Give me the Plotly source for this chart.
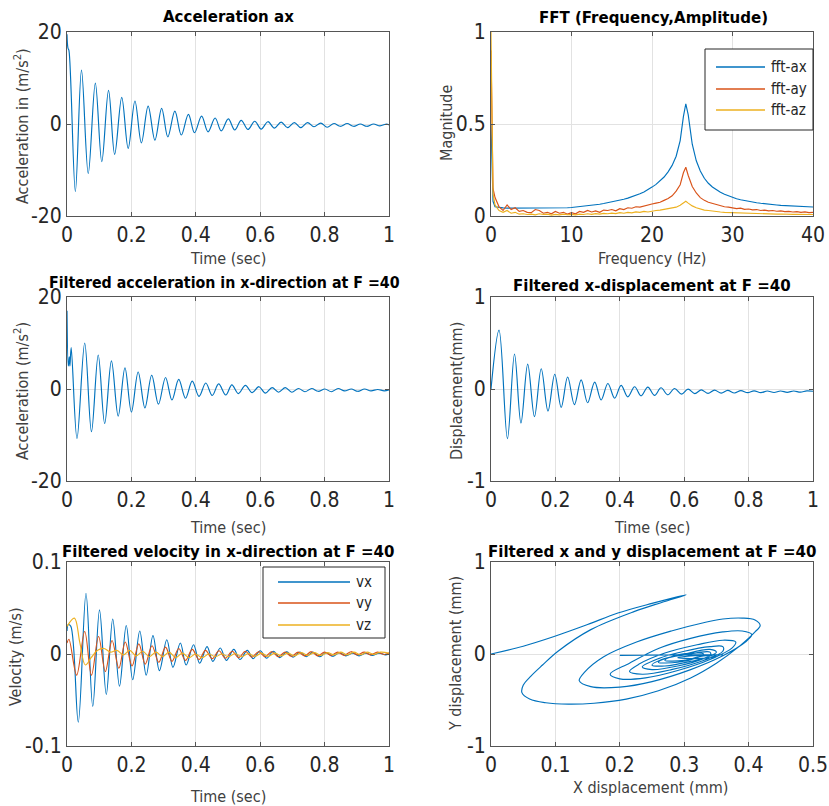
import plotly.graph_objects as go

# ---------------- data ----------------
# Panel 1: Acceleration ax (extrema)
ax_t = [0, 0.003, 0.006, 0.026, 0.045, 0.066, 0.088, 0.108, 0.129, 0.148, 0.170, 0.190, 0.211,
        0.231, 0.252, 0.273, 0.294, 0.313, 0.335, 0.355, 0.377, 0.396, 0.418, 0.438, 0.460, 0.479,
        0.501, 0.521, 0.541, 0.562, 0.583, 0.603, 0.624, 0.644, 0.665, 0.685, 0.706, 0.726, 0.747,
        0.767, 0.788, 0.808, 0.829, 0.849, 0.870, 0.890, 0.911, 0.931, 0.952, 0.972, 0.993, 1.0]
ax_v = [19.5, 16.5, 16.0, -14.7, 11.7, -10.8, 8.9, -8.2, 7.3, -6.6, 5.8, -5.3, 5.0,
        -4.1, 3.9, -3.5, 3.4, -2.8, 2.8, -2.4, 2.1, -1.9, 1.7, -1.7, 1.3, -1.5,
        1.1, -1.3, 0.8, -1.2, 0.6, -1.1, 0.5, -0.9, 0.4, -0.8, 0.3, -0.8, 0.3,
        -0.6, 0.2, -0.7, 0.1, -0.5, 0.1, -0.5, 0.0, -0.5, 0.0, -0.4, 0.0, -0.2]

# Panel 2: FFT
fft_f = [0, 0.25, 0.5, 1, 1.5, 2, 2.5, 3, 3.5, 4, 4.5, 5, 5.5, 6, 6.5, 7, 7.5, 8, 8.5, 9, 9.5, 10,
         10.5, 11, 11.5, 12, 12.5, 13, 13.5, 14, 14.5, 15, 15.5, 16, 16.5, 17, 17.5, 18, 18.5, 19,
         19.5, 20, 20.5, 21, 21.5, 22, 22.5, 23, 23.5, 23.9, 24.2, 24.5, 25, 25.5, 26, 26.5, 27,
         27.5, 28, 28.5, 29, 29.5, 30, 30.5, 31, 31.5, 32, 32.5, 33, 33.5, 34, 34.5, 35, 35.5, 36,
         36.5, 37, 37.5, 38, 38.5, 39, 39.5, 40]
fft_ax = [0.5, 0.08,
          0.05, 0.045, 0.044, 0.043, 0.043, 0.042, 0.042, 0.041, 0.041, 0.041,
          0.041, 0.041, 0.041, 0.041, 0.042, 0.042, 0.043, 0.044, 0.045, 0.046,
          0.048, 0.05, 0.052, 0.055, 0.058, 0.061, 0.064, 0.068, 0.072, 0.076,
          0.08, 0.085, 0.091, 0.097, 0.104, 0.112, 0.121, 0.131, 0.143, 0.157,
          0.172, 0.19, 0.212, 0.24, 0.275, 0.325, 0.41,
          0.54, 0.61,
          0.55, 0.39, 0.3, 0.245, 0.205, 0.178, 0.158, 0.142, 0.129, 0.118, 0.109, 0.101,
          0.094, 0.088, 0.083, 0.079, 0.075, 0.072, 0.069, 0.066, 0.064, 0.062,
          0.06, 0.058, 0.057, 0.055, 0.054, 0.053, 0.052, 0.051, 0.05, 0.049]
fft_ay = [0.9, 0.15,
          0.1, 0.05, 0.03, 0.06, 0.035, 0.045, 0.025, 0.03, 0.02, 0.018,
          0.035, 0.03, 0.015, 0.02, 0.012, 0.025, 0.015, 0.02, 0.01, 0.018,
          0.012, 0.025, 0.02, 0.03, 0.022, 0.028, 0.02, 0.032, 0.03, 0.035,
          0.028, 0.04, 0.035, 0.045, 0.042, 0.05, 0.048, 0.055, 0.058, 0.065,
          0.07, 0.075, 0.085, 0.095, 0.11, 0.135, 0.17,
          0.235, 0.265,
          0.22, 0.16, 0.125, 0.1, 0.085, 0.075, 0.068, 0.06, 0.056, 0.05, 0.048, 0.045,
          0.04, 0.043, 0.036, 0.038, 0.033, 0.035, 0.03, 0.032, 0.028, 0.03,
          0.026, 0.028, 0.024, 0.025, 0.022, 0.024, 0.02, 0.022, 0.018, 0.02]
fft_az = [1.0, 0.12,
          0.06, 0.03, 0.02, 0.03, 0.015, 0.02, 0.01, 0.012, 0.008, 0.01,
          0.006, 0.012, 0.008, 0.01, 0.005, 0.009, 0.006, 0.01, 0.007, 0.009,
          0.006, 0.01, 0.008, 0.012, 0.009, 0.013, 0.01, 0.014, 0.012, 0.016,
          0.013, 0.018, 0.015, 0.02, 0.017, 0.022, 0.02, 0.025, 0.022, 0.028,
          0.03, 0.032, 0.035, 0.038, 0.042, 0.048, 0.058,
          0.072, 0.08,
          0.07, 0.055, 0.045, 0.038, 0.032, 0.03, 0.026, 0.024, 0.022, 0.02, 0.019, 0.018,
          0.016, 0.017, 0.015, 0.014, 0.013, 0.014, 0.012, 0.012, 0.011, 0.011,
          0.01, 0.011, 0.009, 0.01, 0.009, 0.009, 0.008, 0.009, 0.008, 0.008]

# Panel 3: filtered acceleration (extrema)
fa_t = [0, 0.004, 0.007, 0.009, 0.013, 0.031, 0.055, 0.076, 0.097, 0.117, 0.138, 0.159, 0.180,
        0.200, 0.221, 0.242, 0.263, 0.284, 0.306, 0.326, 0.347, 0.368, 0.389, 0.410, 0.431, 0.451,
        0.471, 0.493, 0.512, 0.532, 0.554, 0.575, 0.596, 0.616, 0.637, 0.657, 0.678, 0.698, 0.719,
        0.739, 0.760, 0.780, 0.801, 0.821, 0.842, 0.862, 0.883, 0.903, 0.924, 0.944, 0.965, 0.985, 1.0]
fa_v = [17.0, 5.0, 7.0, 5.0, 9.0, -10.8, 10.0, -9.3, 7.4, -7.5, 6.1, -5.9, 4.6,
        -5.0, 3.7, -4.1, 3.0, -3.3, 2.5, -2.4, 2.1, -2.0, 1.7, -1.6, 1.3, -1.4,
        1.1, -1.3, 0.9, -1.0, 0.8, -0.8, 0.5, -0.9, 0.3, -0.7, 0.3, -0.7, 0.1,
        -0.6, 0.1, -0.5, 0.0, -0.6, 0.1, -0.4, 0.0, -0.5, 0.0, -0.4, -0.1, -0.4, -0.2]

# Panel 4: filtered x-displacement (extrema)
xd_t = [0, 0.025, 0.051, 0.073, 0.093, 0.114, 0.135, 0.156, 0.177, 0.198, 0.218, 0.238, 0.259,
        0.280, 0.300, 0.322, 0.342, 0.363, 0.384, 0.404, 0.425, 0.446, 0.466, 0.487, 0.508, 0.528,
        0.549, 0.570, 0.592, 0.612, 0.633, 0.653, 0.674, 0.694, 0.715, 0.735, 0.756, 0.776, 0.797,
        0.817, 0.838, 0.858, 0.879, 0.899, 0.920, 0.940, 0.961, 0.981, 1.0]
xd_v = [0.0, 0.64, -0.54, 0.38, -0.37, 0.27, -0.30, 0.22, -0.24, 0.16, -0.20, 0.13, -0.17,
        0.10, -0.15, 0.075, -0.12, 0.06, -0.10, 0.04, -0.085, 0.024, -0.075, 0.02, -0.07, 0.013,
        -0.063, 0.005, -0.056, -0.002, -0.05, -0.01, -0.048, -0.012, -0.045, -0.015, -0.043, -0.018, -0.04,
        -0.02, -0.04, -0.022, -0.038, -0.022, -0.036, -0.022, -0.034, -0.02, -0.025]

# Panel 5: filtered velocities (extrema)
vx_t = [0, 0.004, 0.012, 0.035, 0.059, 0.080, 0.101, 0.122, 0.142, 0.163, 0.184, 0.204, 0.226,
        0.246, 0.267, 0.287, 0.310, 0.329, 0.352, 0.370, 0.393, 0.412, 0.435, 0.453, 0.476, 0.495,
        0.518, 0.537, 0.560, 0.578, 0.600, 0.620, 0.641, 0.661, 0.682, 0.702, 0.723, 0.743, 0.764,
        0.784, 0.805, 0.825, 0.846, 0.866, 0.887, 0.907, 0.928, 0.948, 0.969, 0.989, 1.0]
vx_v = [0.025, 0.032, 0.030, -0.074, 0.066, -0.057, 0.048, -0.044, 0.038, -0.035, 0.031, -0.028, 0.025,
        -0.023, 0.020, -0.018, 0.0155, -0.0145, 0.012, -0.012, 0.010, -0.010, 0.008, -0.008, 0.0065, -0.007,
        0.005, -0.006, 0.004, -0.005, 0.0035, -0.0045, 0.003, -0.004, 0.0025, -0.0035, 0.002, -0.003, 0.002,
        -0.003, 0.0015, -0.0025, 0.0015, -0.002, 0.001, -0.002, 0.001, -0.0015, 0.001, -0.001, 0.0]
vy_t = [0, 0.006, 0.030, 0.055, 0.076, 0.098, 0.119, 0.140, 0.161, 0.181, 0.202, 0.223, 0.243,
        0.264, 0.285, 0.306, 0.326, 0.347, 0.368, 0.389, 0.410, 0.430, 0.451, 0.472, 0.492, 0.513,
        0.533, 0.554, 0.574, 0.595, 0.615, 0.636, 0.656, 0.677, 0.697, 0.718, 0.738, 0.759, 0.779,
        0.800, 0.820, 0.841, 0.861, 0.882, 0.902, 0.923, 0.943, 0.964, 0.984, 1.0]
vy_v = [0.012, 0.016, -0.023, 0.0245, -0.023, 0.019, -0.019, 0.0147, -0.0155, 0.013, -0.013, 0.011, -0.011,
        0.009, -0.009, 0.0075, -0.008, 0.006, -0.007, 0.005, -0.006, 0.004, -0.005, 0.0035, -0.0045, 0.003,
        -0.004, 0.003, -0.0035, 0.0025, -0.003, 0.0025, -0.003, 0.002, -0.0025, 0.002, -0.002, 0.0025, -0.002,
        0.002, -0.0015, 0.002, -0.0015, 0.0025, -0.001, 0.002, -0.001, 0.002, -0.0005, 0.001]
vz_t = [0, 0.023, 0.040, 0.057, 0.075, 0.095, 0.115, 0.135, 0.155, 0.175, 0.195, 0.215, 0.235,
        0.256, 0.276, 0.297, 0.317, 0.338, 0.358, 0.379, 0.399, 0.420, 0.440, 0.461, 0.481, 0.502,
        0.522, 0.543, 0.563, 0.584, 0.604, 0.625, 0.645, 0.666, 0.686, 0.707, 0.727, 0.748, 0.768,
        0.789, 0.809, 0.830, 0.850, 0.871, 0.891, 0.912, 0.932, 0.953, 0.973, 1.0]
vz_v = [0.030, 0.039, 0.012, -0.012, -0.004, 0.004, 0.006, 0.002, 0.004, -0.001, 0.004, -0.002, 0.003,
        -0.003, 0.002, -0.003, 0.002, -0.004, 0.001, -0.004, 0.0, -0.004, 0.0, -0.003, 0.0, -0.003,
        0.0005, -0.003, 0.0005, -0.0025, 0.001, -0.0025, 0.001, -0.002, 0.001, -0.002, 0.0015, -0.0015, 0.0015,
        -0.0015, 0.0015, -0.001, 0.002, -0.001, 0.002, -0.001, 0.002, -0.0005, 0.002, 0.001]

# Panel 6: x-y displacement path
xy_x = [0.0, 0.05, 0.098, 0.15, 0.197, 0.25, 0.303,
        0.265, 0.223, 0.155, 0.104, 0.08, 0.062, 0.05, 0.048, 0.06, 0.085, 0.12, 0.16, 0.21, 0.26, 0.31, 0.35,
        0.385, 0.41, 0.418, 0.41, 0.39, 0.36,
        0.33, 0.28, 0.226, 0.175, 0.145, 0.137, 0.155, 0.2, 0.25, 0.31, 0.36, 0.395, 0.405, 0.39, 0.36,
        0.31, 0.26, 0.215, 0.185, 0.2, 0.24, 0.29, 0.34, 0.375, 0.38, 0.36,
        0.32, 0.27, 0.23, 0.215, 0.235, 0.28, 0.33, 0.36, 0.36, 0.34,
        0.3, 0.26, 0.235, 0.25, 0.29, 0.33, 0.35, 0.34,
        0.3, 0.265, 0.25, 0.27, 0.31, 0.34, 0.34,
        0.3, 0.27, 0.26, 0.29, 0.32, 0.33, 0.31, 0.28, 0.27, 0.3, 0.33, 0.35, 0.32, 0.29, 0.31, 0.34, 0.36,
        0.28, 0.2]
xy_y = [0.0, 0.085, 0.19, 0.32, 0.445, 0.55, 0.643,
        0.56, 0.463, 0.265, 0.03, -0.12, -0.24, -0.34, -0.42, -0.49, -0.53, -0.545, -0.535, -0.49, -0.4, -0.26, -0.1,
        0.08, 0.24, 0.31, 0.37, 0.39, 0.38,
        0.34, 0.25, 0.13, -0.03, -0.2, -0.29, -0.355, -0.36, -0.3, -0.17, -0.02, 0.13, 0.21, 0.25, 0.24,
        0.17, 0.06, -0.1, -0.22, -0.27, -0.26, -0.18, -0.06, 0.07, 0.13, 0.15,
        0.1, 0.01, -0.11, -0.19, -0.22, -0.17, -0.07, 0.03, 0.08, 0.08,
        0.03, -0.05, -0.14, -0.17, -0.13, -0.05, 0.02, 0.05,
        0.0, -0.06, -0.12, -0.13, -0.08, -0.02, 0.02,
        -0.01, -0.05, -0.09, -0.09, -0.04, 0.0, 0.01, -0.03, -0.07, -0.07, -0.02, -0.03, -0.05, -0.04, -0.02, -0.01, -0.01,
        -0.01, -0.015]

time_ticks = [0, 0.2, 0.4, 0.6, 0.8, 1]
time_labels = ["0", "0.2", "0.4", "0.6", "0.8", "1"]
freq_ticks = [0, 10, 20, 30, 40]
mag_ticks = [0, 0.5, 1]
mag_labels = ["0", "0.5", "1"]
acc_ticks = [-20, 0, 20]
unit_ticks = [-1, 0, 1]
vel_ticks = [-0.1, 0, 0.1]
vel_labels = ["-0.1", "0", "0.1"]
xdisp_ticks = [0, 0.1, 0.2, 0.3, 0.4, 0.5]
xdisp_labels = ["0", "0.1", "0.2", "0.3", "0.4", "0.5"]
fft_names = ["fft-ax", "fft-ay", "fft-az"]
vel_names = ["vx", "vy", "vz"]

# ---------------- styling ----------------
W, H = 829, 806
BLUE, ORANGE, YELLOW = "#0072BD", "#D95319", "#EDB120"
FONT = "Liberation Sans Narrow, DejaVu Sans Condensed, Liberation Sans, sans-serif"
LW = 1.15

def xd(a, b):
    return [a / W, b / W]

def yd(top, bot):
    return [1 - bot / H, 1 - top / H]

fig = go.Figure()

def line(x, y, xa, ya, color, name=None, shape="spline"):
    fig.add_trace(go.Scatter(
        x=x, y=y, xaxis=xa, yaxis=ya, mode="lines", name=name,
        line=dict(color=color, width=LW, shape=shape, smoothing=1.0),
        showlegend=False, hoverinfo="skip"))

line(ax_t, ax_v, "x", "y", BLUE)
line(fft_f, fft_ax, "x2", "y2", BLUE, fft_names[0], "linear")
line(fft_f, fft_ay, "x2", "y2", ORANGE, fft_names[1], "linear")
line(fft_f, fft_az, "x2", "y2", YELLOW, fft_names[2], "linear")
line(fa_t, fa_v, "x3", "y3", BLUE)
line(xd_t, xd_v, "x4", "y4", BLUE)
line(vx_t, vx_v, "x5", "y5", BLUE, vel_names[0])
line(vy_t, vy_v, "x5", "y5", ORANGE, vel_names[1])
line(vz_t, vz_v, "x5", "y5", YELLOW, vel_names[2])
line(xy_x, xy_y, "x6", "y6", BLUE)

def axis(dom, rng, tv, tt, anchor):
    return dict(domain=dom, range=rng, tickvals=tv, ticktext=tt, anchor=anchor,
                automargin=False,
                showgrid=True, gridcolor="#e2e2e2", gridwidth=1, zeroline=False,
                showline=True, mirror="ticks", linecolor="#555555", linewidth=1,
                ticks="inside", ticklen=4, tickcolor="#555555",
                tickfont=dict(family=FONT, size=21, color="#262626"),
                fixedrange=True)

L, R = (67, 389), (491, 813)
r1, r2, r3 = (32, 216), (297, 481), (562, 746)

layout_axes = dict(
    xaxis=axis(xd(*L), [0, 1], time_ticks, time_labels, "y"),
    yaxis=axis(yd(*r1), [-20, 20], acc_ticks, ["-20", "0", "20"], "x"),
    xaxis2=axis(xd(*R), [0, 40], freq_ticks, [str(v) for v in freq_ticks], "y2"),
    yaxis2=axis(yd(*r1), [0, 1], mag_ticks, mag_labels, "x2"),
    xaxis3=axis(xd(*L), [0, 1], time_ticks, time_labels, "y3"),
    yaxis3=axis(yd(*r2), [-20, 20], acc_ticks, ["-20", "0", "20"], "x3"),
    xaxis4=axis(xd(*R), [0, 1], time_ticks, time_labels, "y4"),
    yaxis4=axis(yd(*r2), [-1, 1], unit_ticks, ["-1", "0", "1"], "x4"),
    xaxis5=axis(xd(*L), [0, 1], time_ticks, time_labels, "y5"),
    yaxis5=axis(yd(*r3), [-0.1, 0.1], vel_ticks, vel_labels, "x5"),
    xaxis6=axis(xd(*R), [0, 0.5], xdisp_ticks, xdisp_labels, "y6"),
    yaxis6=axis(yd(*r3), [-1, 1], unit_ticks, ["-1", "0", "1"], "x6"),
)

ann = []
shapes = []
def text(x, y, s, size, bold=False, angle=0, color="#262626", xanchor="center"):
    ann.append(dict(x=x / W, y=1 - y / H, xref="paper", yref="paper", text=("<b>%s</b>" % s) if bold else s,
                    showarrow=False, textangle=angle, xanchor=xanchor, yanchor="middle",
                    font=dict(family=FONT, size=size, color=color)))

TS = 16.7
text(228, 16, "Acceleration ax", TS, True, color="#000000")
text(653, 17, "FFT (Frequency,Amplitude)", TS, True, color="#000000")
text(224, 283, "Filtered acceleration in x-direction at F =40", 15.8, True, color="#000000")
text(652, 285, "Filtered x-displacement at F =40", TS, True, color="#000000")
text(228, 551, "Filtered velocity in x-direction at F =40", TS, True, color="#000000")
text(652, 551, "Filtered x and y displacement at F =40", TS, True, color="#000000")

AS, AC = 16, "#404040"
text(228, 258, "Time (sec)", AS, color=AC)
text(652, 258, "Frequency (Hz)", AS, color=AC)
text(228, 527, "Time (sec)", AS, color=AC)
text(652, 527, "Time (sec)", AS, color=AC)
text(228, 796, "Time (sec)", AS, color=AC)
text(650, 787, "X displacement (mm)", AS, color=AC)

text(21, 126, "Acceleration in (m/s<sup>2</sup>)", AS, angle=-90, color=AC)
text(446, 123, "Magnitude", AS, angle=-90, color=AC)
text(21, 391, "Acceleration (m/s<sup>2</sup>)", AS, angle=-90, color=AC)
text(456, 391, "Displacement(mm)", AS, angle=-90, color=AC)
text(15, 657, "Velocity (m/s)", AS, angle=-90, color=AC)
text(455, 653, "Y displacement (mm)", AS, angle=-90, color=AC)

# legends (boxes in paper pixels)
def legend_box(x0, y0, x1, y1, lx0, lx1, tx, ys, names, colors):
    shapes.append(dict(type="rect", xref="paper", yref="paper",
                       x0=x0 / W, x1=x1 / W, y0=1 - y1 / H, y1=1 - y0 / H,
                       line=dict(color="#262626", width=1), fillcolor="white", layer="above"))
    for yy, nm, c in zip(ys, names, colors):
        shapes.append(dict(type="line", xref="paper", yref="paper",
                           x0=lx0 / W, x1=lx1 / W, y0=1 - yy / H, y1=1 - yy / H,
                           line=dict(color=c, width=1.3), layer="above"))
        text(tx, yy, nm, 15, color="#262626", xanchor="left")

legend_box(705, 49, 813, 130, 716, 765, 769, [67, 89, 110], fft_names, [BLUE, ORANGE, YELLOW])
legend_box(263, 567, 385, 638, 278, 350, 354, [582, 603, 625], vel_names, [BLUE, ORANGE, YELLOW])

fig.update_layout(
    template="none",
    width=W, height=H, autosize=False,
    margin=dict(l=0, r=0, t=0, b=0, pad=0),
    paper_bgcolor="white", plot_bgcolor="white",
    annotations=ann, shapes=shapes, showlegend=False,
    **layout_axes,
)

fig.write_html("out.html", config={"displayModeBar": False},
               post_script="document.body.style.margin='0px';document.body.style.overflow='hidden';")
